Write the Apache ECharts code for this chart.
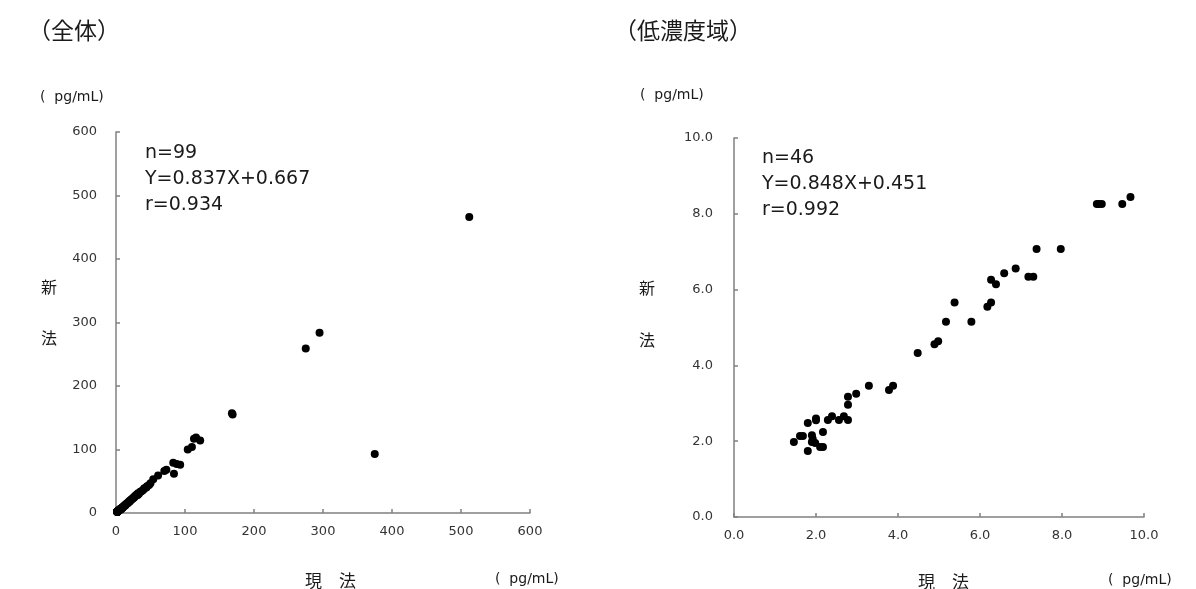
<!DOCTYPE html>
<html>
<head>
<meta charset="utf-8">
<script src="https://cdn.jsdelivr.net/npm/echarts@6/dist/echarts.min.js"></script>
<style>
  html, body { margin: 0; padding: 0; background: #fff; }
  #chart { width: 1196px; height: 589px; }
</style>
</head>
<body>
<div id="chart"></div>
<script>
// 低濃度域 (現法, 新法)
var lowCurrent = [1.46, 1.61, 1.68, 1.80, 1.80, 1.90, 1.90, 1.92, 1.98, 2.00, 2.00, 2.10, 2.17, 2.17,
  2.29, 2.39, 2.56, 2.68, 2.78, 2.78, 2.78, 2.98, 3.29, 3.78, 3.88, 4.48, 4.89, 4.98, 5.17, 5.38,
  5.79, 6.18, 6.27, 6.27, 6.39, 6.59, 6.87, 7.18, 7.30, 7.38, 7.97, 8.85, 8.90, 8.97, 9.47, 9.67]
var lowNew = [1.98, 2.14, 2.14, 2.48, 1.74, 2.16, 1.98, 2.06, 1.95, 2.60, 2.55, 1.85, 1.85, 2.24,
  2.56, 2.66, 2.56, 2.66, 2.56, 2.96, 3.17, 3.25, 3.46, 3.35, 3.46, 4.33, 4.56, 4.64, 5.15, 5.66,
  5.15, 5.55, 5.66, 6.26, 6.14, 6.43, 6.56, 6.34, 6.34, 7.07, 7.07, 8.26, 8.26, 8.26, 8.26, 8.44]

// 全体のうち 10 pg/mL 以上
var highCurrent = [10.5, 11, 12, 12.8, 13.5, 14, 15, 16, 17, 18, 19, 20, 21, 22, 23, 24, 25, 26, 27, 28,
  29, 30, 31, 32, 33, 35, 36, 38, 40, 41, 44, 45, 48, 50, 54, 61, 70, 73, 83, 84, 88, 93,
  104, 110, 113, 116, 122, 168, 169, 275, 295, 375, 512]
var highNew = [9.8, 10.5, 11, 12.3, 12, 13.5, 14, 15.2, 15.5, 17, 18.5, 18, 20, 21, 21.5, 23, 24, 24, 26, 27,
  27.5, 29, 28, 31, 30, 33, 34, 35, 37, 39, 40, 42, 44, 47, 53, 59, 66, 68, 79, 62, 77, 76,
  100, 104, 117, 119, 114, 157, 155, 259, 284, 93, 466]

function pairs(xs, ys) {
  var out = []
  for (var i = 0; i < xs.length; i++) out.push([xs[i], ys[i]])
  return out
}

var allData = pairs(lowCurrent, lowNew).concat(pairs(highCurrent, highNew))
var lowData = pairs(lowCurrent, lowNew)

var JP = '"Noto Sans CJK JP", sans-serif'
var NUM = '"DejaVu Sans", sans-serif'
var axisColor = '#808080'
var txt = '#1a1a1a'

function label(text, left, top, size, font) {
  return { text: text, left: left, top: top, padding: 0,
    textStyle: { fontFamily: font || JP, fontSize: size, fontWeight: 'normal', color: txt, lineHeight: size + 7 } }
}

function axisBase(min, max, interval, margin, fmt) {
  return {
    type: 'value', min: min, max: max, interval: interval,
    axisLine: { show: true, lineStyle: { color: axisColor, width: 1.5 } },
    axisTick: { show: true, inside: true, length: 4, lineStyle: { color: axisColor, width: 1.5 } },
    splitLine: { show: false },
    axisLabel: { color: '#333', fontFamily: NUM, fontSize: 13, margin: margin, formatter: fmt }
  }
}

var fmt1 = function (v) { return v.toFixed(1) }

var myCharts = echarts.init(document.getElementById('chart'))
myCharts.setOption({
  animation: false,
  backgroundColor: '#fff',
  title: [
    label('（全体）', 28, 15, 23),
    label('(  pg/mL)', 40, 87, 14, NUM),
    label('新', 41, 275, 16),
    label('法', 41, 326, 16),
    label('現　法', 305, 569, 17),
    label('(  pg/mL)', 495, 569, 14, NUM),
    label('n=99\nY=0.837X+0.667\nr=0.934', 145, 140, 19, NUM),

    label('（低濃度域）', 614, 15, 23),
    label('(  pg/mL)', 640, 85, 14, NUM),
    label('新', 639, 276, 16),
    label('法', 639, 328, 16),
    label('現　法', 918, 570, 17),
    label('(  pg/mL)', 1108, 570, 14, NUM),
    label('n=46\nY=0.848X+0.451\nr=0.992', 762, 145, 19, NUM)
  ],
  grid: [
    { left: 116, top: 132, width: 414, height: 381 },
    { left: 734, top: 138, width: 410, height: 379 }
  ],
  xAxis: [
    Object.assign(axisBase(0, 600, 100, 12), { gridIndex: 0 }),
    Object.assign(axisBase(0, 10, 2, 12, fmt1), { gridIndex: 1 })
  ],
  yAxis: [
    Object.assign(axisBase(0, 600, 100, 19), { gridIndex: 0 }),
    Object.assign(axisBase(0, 10, 2, 21, fmt1), { gridIndex: 1 })
  ],
  series: [
    { type: 'scatter', xAxisIndex: 0, yAxisIndex: 0, data: allData,
      symbolSize: 8, itemStyle: { color: '#000', opacity: 1 } },
    { type: 'scatter', xAxisIndex: 1, yAxisIndex: 1, data: lowData,
      symbolSize: 8, itemStyle: { color: '#000', opacity: 1 } }
  ]
})
</script>
</body>
</html>
